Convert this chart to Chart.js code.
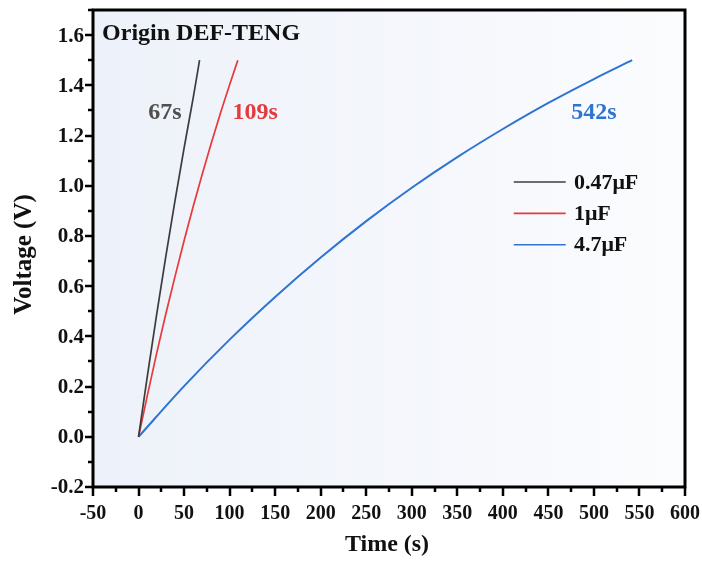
<!DOCTYPE html>
<html>
<head>
<meta charset="utf-8">
<script src="https://cdn.jsdelivr.net/npm/chart.js@4"></script>
<style>
  html, body { margin: 0; padding: 0; background: #fff; }
  #wrap { width: 702px; height: 563px; position: relative; }
</style>
</head>
<body>
<div id="wrap"><canvas id="voltChart"></canvas></div>
<script>
// data
const seriesNames = ['0.47\u03bcF', '1\u03bcF', '4.7\u03bcF'];
const seriesColors = ['#3c3c3c', '#e8393c', '#2f74d1'];
const labelColors = ['#505050', '#e23a3d', '#2f74d1'];
const chargeLabels = ['67s', '109s', '542s'];

const time047 = [0, 10, 20, 30, 40, 50, 60, 67];
const volt047 = [0, 0.25, 0.49, 0.72, 0.94, 1.15, 1.35, 1.5];
const time1 = [0, 10, 20, 30, 40, 50, 60, 70, 80, 90, 100, 109];
const volt1 = [0, 0.17, 0.334, 0.49, 0.638, 0.781, 0.917, 1.047, 1.171, 1.29, 1.402, 1.5];
const time47 = [0, 50, 100, 150, 200, 250, 300, 350, 400, 450, 500, 542];
const volt47 = [0, 0.202, 0.387, 0.557, 0.714, 0.859, 0.992, 1.114, 1.226, 1.33, 1.425, 1.5];

const xTicks = [-50, 0, 50, 100, 150, 200, 250, 300, 350, 400, 450, 500, 550, 600];
const yTicks = [-0.2, 0, 0.2, 0.4, 0.6, 0.8, 1.0, 1.2, 1.4, 1.6];

const pts = (xs, ys) => xs.map((x, i) => ({ x: x, y: ys[i] }));
const allTimes = [time047, time1, time47];
const allVolts = [volt047, volt1, volt47];

const serif = '"Liberation Serif", "Times New Roman", serif';

const decor = {
  id: 'decor',
  beforeDatasetsDraw(chart) {
    const { ctx, chartArea: a } = chart;
    ctx.save();
    const g = ctx.createLinearGradient(a.left, 0, a.right, 0);
    g.addColorStop(0, '#edf1f9');
    g.addColorStop(1, '#fbfcfe');
    ctx.fillStyle = g;
    ctx.fillRect(a.left, a.top, a.right - a.left, a.bottom - a.top);
    ctx.restore();
  },
  afterDraw(chart) {
    const { ctx, chartArea: a, scales } = chart;
    const xs = scales.x, ys = scales.y;
    ctx.save();
    // frame
    ctx.strokeStyle = '#000';
    ctx.lineWidth = 3;
    ctx.strokeRect(a.left, a.top, a.right - a.left, a.bottom - a.top);
    // ticks, major and minor, outward
    ctx.lineWidth = 2.5;
    ctx.beginPath();
    for (let v = -50; v <= 600; v += 25) {
      const px = Math.round(xs.getPixelForValue(v));
      const len = (v % 50 === 0) ? 9 : 5;
      ctx.moveTo(px, a.bottom);
      ctx.lineTo(px, a.bottom + len);
    }
    for (let k = -2; k <= 17; k++) {
      const py = Math.round(ys.getPixelForValue(k / 10));
      const len = (k % 2 === 0) ? 8 : 5;
      ctx.moveTo(a.left, py);
      ctx.lineTo(a.left - len, py);
    }
    ctx.stroke();

    // tick labels
    ctx.fillStyle = '#111';
    ctx.textBaseline = 'middle';
    ctx.textAlign = 'center';
    ctx.font = 'bold 20px ' + serif;
    xTicks.forEach(v => ctx.fillText(String(v), xs.getPixelForValue(v), a.bottom + 27));
    ctx.textAlign = 'right';
    ctx.font = 'bold 21px ' + serif;
    yTicks.forEach(v => ctx.fillText(v.toFixed(1), a.left - 9, ys.getPixelForValue(v) + 1));

    // texts
    ctx.textAlign = 'left';
    ctx.font = 'bold 24px ' + serif;
    ctx.fillText('Origin DEF-TENG', xs.getPixelForValue(-40), ys.getPixelForValue(1.607));

    ctx.textAlign = 'center';
    ctx.font = 'bold 24px ' + serif;
    const labelX = [29, 128, 500];
    chargeLabels.forEach((t, i) => {
      ctx.fillStyle = labelColors[i];
      ctx.fillText(t, xs.getPixelForValue(labelX[i]), ys.getPixelForValue(1.29));
    });

    // legend
    ctx.font = 'bold 22px ' + serif;
    ctx.textAlign = 'left';
    const rowsY = [1.015, 0.89, 0.765];
    seriesNames.forEach((n, i) => {
      const py = ys.getPixelForValue(rowsY[i]);
      ctx.strokeStyle = seriesColors[i];
      ctx.lineWidth = 1.6;
      ctx.beginPath();
      ctx.moveTo(xs.getPixelForValue(412), py);
      ctx.lineTo(xs.getPixelForValue(469), py);
      ctx.stroke();
      ctx.fillStyle = '#111';
      ctx.fillText(n, xs.getPixelForValue(478), py + 1);
    });

    // axis titles
    ctx.fillStyle = '#111';
    ctx.font = 'bold 24px ' + serif;
    ctx.textAlign = 'center';
    ctx.fillText('Time (s)', (a.left + a.right) / 2 - 2, 545);
    ctx.translate(25, (a.top + a.bottom) / 2 + 6);
    ctx.rotate(-Math.PI / 2);
    ctx.font = 'bold 25px ' + serif;
    ctx.fillText('Voltage (V)', 0, 0);
    ctx.restore();
  }
};

const ctx = document.getElementById('voltChart').getContext('2d');
const chart = new Chart(ctx, {
  type: 'line',
  data: {
    datasets: seriesNames.map((n, i) => ({
      label: n,
      data: pts(allTimes[i], allVolts[i]),
      borderColor: seriesColors[i],
      borderWidth: i === 2 ? 2 : 1.7,
      pointRadius: 0,
      tension: 0.4,
      cubicInterpolationMode: 'monotone',
      fill: false
    }))
  },
  options: {
    responsive: true,
    maintainAspectRatio: false,
    animation: false,
    layout: { padding: { top: 10, right: 17, left: 0, bottom: 0 } },
    plugins: { legend: { display: false }, tooltip: { enabled: false } },
    scales: {
      x: {
        type: 'linear',
        min: -50,
        max: 600,
        afterBuildTicks: s => { s.ticks = xTicks.map(v => ({ value: v })); },
        afterFit: s => { s.height = 76; },
        grid: { display: false, drawTicks: false },
        border: { display: false },
        ticks: { display: false }
      },
      y: {
        type: 'linear',
        min: -0.2,
        max: 1.7,
        afterBuildTicks: s => { s.ticks = yTicks.map(v => ({ value: v })); },
        afterFit: s => { s.width = 93; },
        grid: { display: false, drawTicks: false },
        border: { display: false },
        ticks: { display: false }
      }
    }
  },
  plugins: [decor]
});
</script>
</body>
</html>
